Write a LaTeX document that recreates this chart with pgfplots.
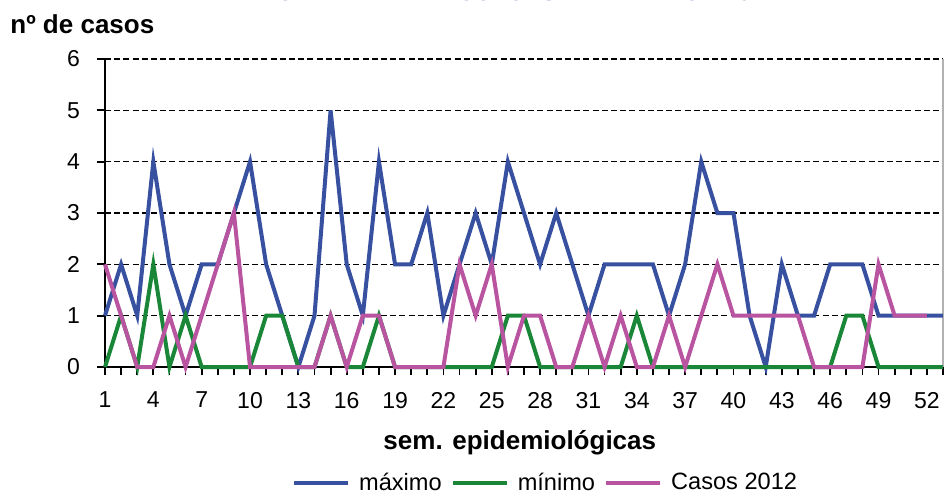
\documentclass[border=0pt]{standalone}
\usepackage{fontspec}
\setmainfont{Liberation Sans}
\usepackage{pgfplots}
\usepackage{pgfplotstable}
\pgfplotsset{compat=1.18}
\usetikzlibrary{calc}

\definecolor{maxBlue}{RGB}{55,80,160}
\definecolor{minGreen}{RGB}{25,135,55}
\definecolor{casosPink}{RGB}{185,85,160}
\definecolor{titleBlue}{RGB}{31,60,140}

% semana, maximo, minimo
\pgfplotstableread{
sem max min
1 1 0
2 2 1
3 1 0
4 4 2
5 2 0
6 1 1
7 2 0
8 2 0
9 3 0
10 4 0
11 2 1
12 1 1
13 0 0
14 1 0
15 5 1
16 2 0
17 1 0
18 4 1
19 2 0
20 2 0
21 3 0
22 1 0
23 2 0
24 3 0
25 2 0
26 4 1
27 3 1
28 2 0
29 3 0
30 2 0
31 1 0
32 2 0
33 2 0
34 2 1
35 2 0
36 1 0
37 2 0
38 4 0
39 3 0
40 3 0
41 1 0
42 0 0
43 2 0
44 1 0
45 1 0
46 2 0
47 2 1
48 2 1
49 1 0
50 1 0
51 1 0
52 1 0
53 1 0
}\canal

% casos 2012
\pgfplotstableread{
sem casos
1 2
2 1
3 0
4 0
5 1
6 0
7 1
8 2
9 3
10 0
11 0
12 0
13 0
14 0
15 1
16 0
17 1
18 1
19 0
20 0
21 0
22 0
23 2
24 1
25 2
26 0
27 1
28 1
29 0
30 0
31 1
32 0
33 1
34 0
35 0
36 1
37 0
38 1
39 2
40 1
41 1
42 1
43 1
44 1
45 0
46 0
47 0
48 0
49 2
50 1
51 1
52 1
}\casos

\begin{document}
\begin{tikzpicture}
\begin{axis}[
  name=ax, at={(0,0)}, anchor=south west,
  scale only axis, width=419pt, height=154pt,
  xmin=1, xmax=53, ymin=0, ymax=6,
  xtick={1,4,...,52}, minor xtick={1,...,53}, ytick={0,...,6},
  axis x line*=bottom, axis y line*=left,
  axis line style={black, line width=1pt},
  tick align=outside, major tick length=4pt, minor tick length=4pt,
  tick style={black, line width=0.9pt},
  ymajorgrids,
  major grid style={black, line width=0.7pt, dash pattern=on 3pt off 1.6pt},
  ticklabel style={font=\fontsize{11.5}{13}\selectfont},
  yticklabel style={xshift=-5pt},
  xticklabel style={yshift=-5pt},
  /pgf/number format/assume math mode=true,
  xlabel={sem. epidemiológicas},
  xlabel style={font=\fontsize{13}{15}\bfseries, at={(0.495,-0.247)}, anchor=center},
  legend columns=3,
  legend style={draw=none, at={(0.527,-0.377)}, anchor=center,
    font=\fontsize{11.8}{14}\selectfont,
    /tikz/every odd column/.append style={column sep=2.5pt},
    /tikz/every even column/.append style={column sep=2.5pt}},
  legend image code/.code={\draw[#1] (0pt,0pt) -- (27pt,0pt);},
  clip=false,
]
\draw[gray!60, line width=0.8pt] (rel axis cs:1,0) -- (rel axis cs:1,1);
\addplot[color=maxBlue, line width=2pt, no markers] table[x=sem, y=max] {\canal};
\addlegendentry{máximo}
\addplot[color=minGreen, line width=2pt, no markers] table[x=sem, y=min] {\canal};
\addlegendentry{mínimo}
\addplot[color=casosPink, line width=2pt, no markers] table[x=sem, y=casos] {\casos};
\addlegendentry{Casos 2012}
\end{axis}
\node[anchor=base west, font=\fontsize{13}{15}\bfseries, inner sep=0pt] at ($(ax.south west)+(-47.5pt,167pt)$) {nº de casos};
\node[anchor=base west, font=\fontsize{11.8}{14}\bfseries, text=titleBlue, inner sep=0pt] at ($(ax.south west)+(85.5pt,183.2pt)$) {CANAL ENDÉMICO: CASTILLA Y LEÓN 2012};
\pgfresetboundingbox
\path[use as bounding box] ($(ax.south west)+(-52.5pt,-63.5pt)$) rectangle ($(ax.south west)+(419.5pt,183.5pt)$);
\end{tikzpicture}
\end{document}
